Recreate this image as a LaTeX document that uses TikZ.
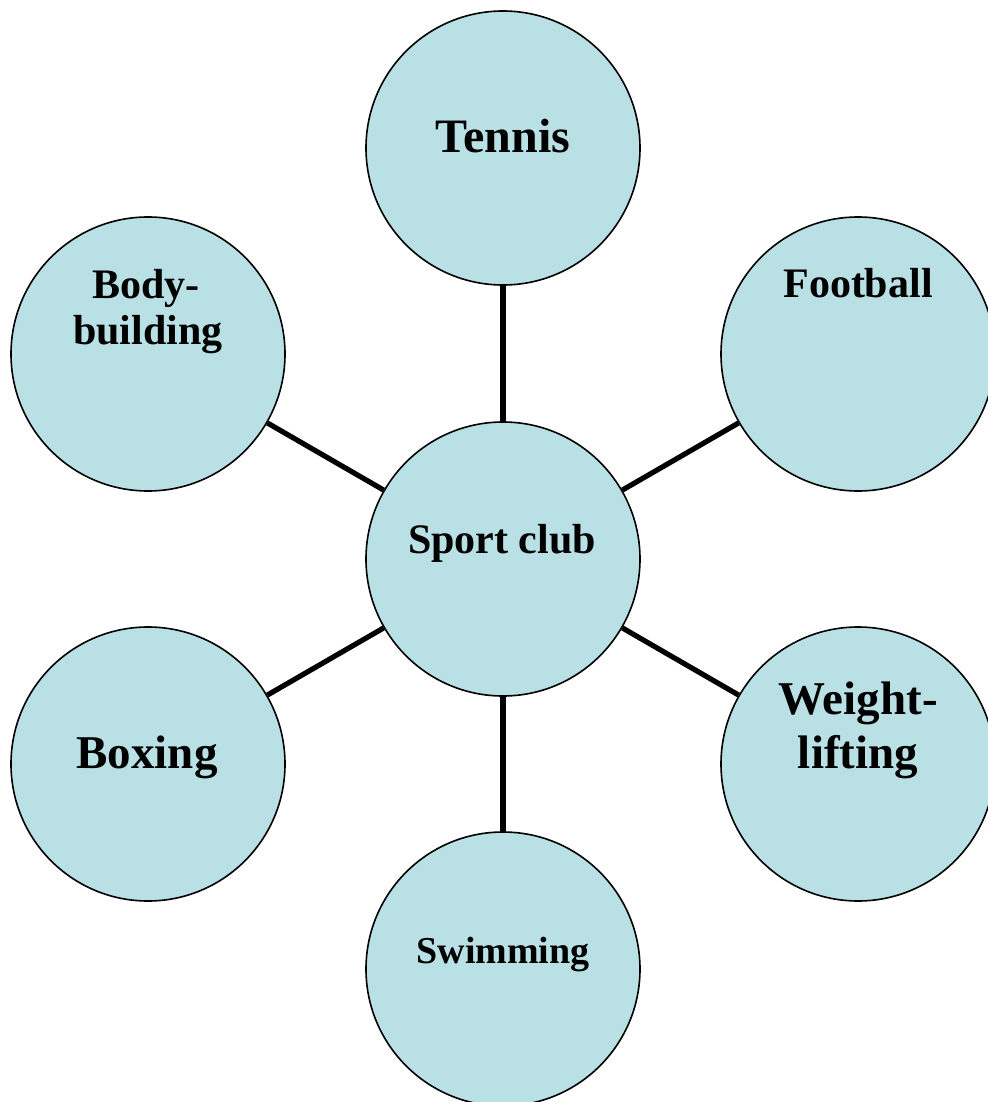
\documentclass[tikz,border=0pt]{standalone}
\usepackage{fontspec}
\setmainfont{Liberation Serif}
\definecolor{bubble}{RGB}{185,224,228}
\begin{document}
\begin{tikzpicture}[x=1pt,y=-1pt,
  bubble/.style={circle,draw=black,line width=1.6pt,fill=bubble,minimum size=274pt,inner sep=0pt},
  link/.style={line width=5.2pt,black},
  lbl/.style={anchor=base,inner sep=0pt,font=\bfseries}]
\useasboundingbox (0,0) rectangle (987,1102);
\fill[white] (0,0) rectangle (987,1102);
\node[bubble] (tennis) at (503,148) {};
\node[bubble] (football) at (858,354) {};
\node[bubble] (body) at (148,354) {};
\node[bubble] (club) at (503,559) {};
\node[bubble] (boxing) at (148,764) {};
\node[bubble] (weight) at (858,764) {};
\node[bubble] (swim) at (503,969) {};
\draw[link] (club) -- (tennis);
\draw[link] (club) -- (football);
\draw[link] (club) -- (body);
\draw[link] (club) -- (boxing);
\draw[link] (club) -- (weight);
\draw[link] (club) -- (swim);
\node[lbl,font=\bfseries\fontsize{48}{52}\selectfont] (t1) at (503,153) {Tennis};
\node[lbl,font=\bfseries\fontsize{42}{46}\selectfont] (t2) at (858,297) {Football};
\node[lbl,font=\bfseries\fontsize{42}{46}\selectfont] (t3) at (146,298) {Body-};
\node[lbl,font=\bfseries\fontsize{42}{46}\selectfont] (t4) at (148,344) {building};
\node[lbl,font=\bfseries\fontsize{42}{46}\selectfont] (t5) at (502,553) {Sport club};
\node[lbl,font=\bfseries\fontsize{47}{51}\selectfont] (t6) at (147,768) {Boxing};
\node[lbl,font=\bfseries\fontsize{47}{51}\selectfont] (t7) at (858,714) {Weight-};
\node[lbl,font=\bfseries\fontsize{47}{51}\selectfont] (t8) at (858,768) {lifting};
\node[lbl,font=\bfseries\fontsize{38}{42}\selectfont] (t9) at (503,963) {Swimming};
\end{tikzpicture}
\end{document}
